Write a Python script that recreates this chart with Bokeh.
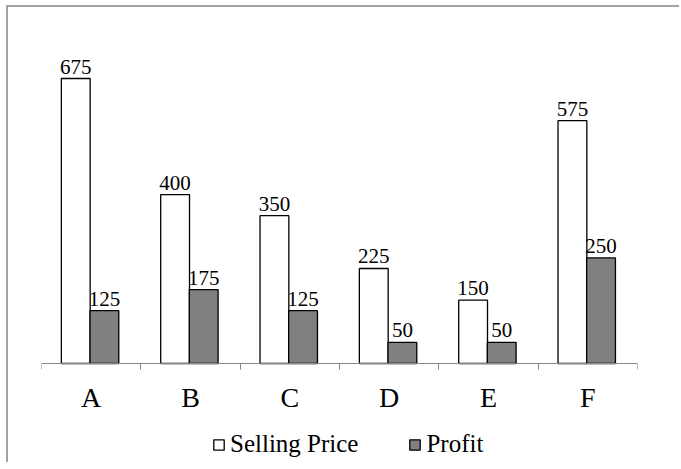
from bokeh.plotting import figure
from bokeh.models import ColumnDataSource, FixedTicker, Range1d, Legend, LegendItem, LabelSet
from bokeh.embed import file_html
from bokeh.resources import INLINE

categories = ["A", "B", "C", "D", "E", "F"]
selling_price = [675, 400, 350, 225, 150, 575]
profit = [125, 175, 125, 50, 50, 250]

n = len(categories)
x_white = [i + 0.345 for i in range(n)]
x_gray = [i + 0.633 for i in range(n)]

src_w = ColumnDataSource(dict(x=x_white, top=selling_price, lab=[str(v) for v in selling_price]))
src_g = ColumnDataSource(dict(x=x_gray, top=profit, lab=[str(v) for v in profit]))

FONT = "Liberation Serif"

p = figure(output_backend="svg", toolbar_location=None,
           x_range=Range1d(0, n), y_range=Range1d(-234.5, 840.8),
           frame_width=596, frame_height=454,
           min_border_left=33, min_border_right=42, min_border_top=1, min_border_bottom=0)
p.styles = {"border-left": "2px solid #a3a3a3", "border-top": "2px solid #a3a3a3",
            "margin-left": "6px", "margin-top": "5px"}
p.outline_line_color = None
p.grid.visible = False
p.yaxis.visible = False

rw = p.vbar(x="x", top="top", width=0.29, bottom=0, source=src_w,
            fill_color="white", line_color="black", line_width=1.3)
rg = p.vbar(x="x", top="top", width=0.29, bottom=0, source=src_g,
            fill_color="#808080", line_color="black", line_width=1.3)

for s in (src_w, src_g):
    p.add_layout(LabelSet(x="x", y="top", text="lab", source=s, text_align="center",
                          text_baseline="bottom", y_offset=5, text_font=FONT,
                          text_font_size="21px", text_color="black"))

ax = p.xaxis[0]
ax.fixed_location = 0
ax.ticker = FixedTicker(ticks=[i + 0.5 for i in range(n)], minor_ticks=list(range(n + 1)))
ax.major_label_overrides = {i + 0.5: c for i, c in enumerate(categories)}
ax.major_tick_line_color = None
ax.major_tick_out = 0
ax.major_tick_in = 0
ax.minor_tick_out = 6
ax.minor_tick_in = 0
ax.minor_tick_line_color = "#868686"
ax.axis_line_color = "#868686"
ax.major_label_standoff = 13
ax.major_label_text_font = FONT
ax.major_label_text_font_size = "28px"
ax.major_label_text_color = "black"

legend = Legend(items=[LegendItem(label="Selling Price", renderers=[rw]),
                       LegendItem(label="Profit", renderers=[rg])],
                orientation="horizontal", location=(171, 4),
                label_text_font=FONT, label_text_font_size="25px", label_text_color="black",
                glyph_width=13, glyph_height=13, spacing=50, label_standoff=5,
                border_line_color=None, background_fill_alpha=0, padding=4, margin=0)
p.add_layout(legend, "center")

open("out.html", "w").write(file_html(p, INLINE))
